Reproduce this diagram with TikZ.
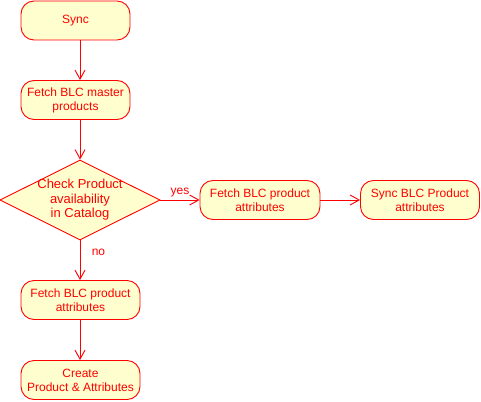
\documentclass[tikz,border=0pt]{standalone}
\usepackage{fontspec}
\setmainfont{Liberation Sans}
\usetikzlibrary{shapes.geometric,arrows.meta}
\definecolor{umlred}{HTML}{FF0000}
\definecolor{umlfill}{HTML}{FEFECE}

\begin{document}
\begin{tikzpicture}[
        x=1pt, y=-1pt,
        every node/.style={font=\fontsize{12}{14}\selectfont, text=umlred, align=center},
        act/.style={draw=umlred, fill=umlfill, line width=0.9pt, rounded corners=13pt,
            minimum height=39pt, inner sep=0pt},
        choice/.style={draw=umlred, fill=umlfill, line width=0.9pt, diamond, shape aspect=2,
            minimum width=160pt, minimum height=80pt, inner sep=-2.5pt,
            font=\fontsize{13}{14.5}\selectfont},
        flow/.style={draw=umlred, line width=0.9pt, -{Straight Barb[length=9pt,width=10pt]}}
    ]
    \useasboundingbox (0,0) rectangle (481,401);
    % left column
    \node[act, minimum width=109pt] (sync) at (75.5,20.5) {Sync};
    \node[act, minimum width=109pt] (master) at (75.5,100) {Fetch BLC master\\products};
    \node[choice] (check) at (80,200) {Check Product\\availability\\in Catalog};
    \node[act, minimum width=119pt] (attrdown) at (80.5,300) {Fetch BLC product\\attributes};
    \node[act, minimum width=119pt] (create) at (80.5,380) {Create\\Product \& Attributes};
    % right branch
    \node[act, minimum width=120pt] (attrright) at (260,200) {Fetch BLC product\\attributes};
    \node[act, minimum width=119pt] (syncattr) at (420,200) {Sync BLC Product\\attributes};

    \draw[flow] (sync.south -| check.north) -- (master.north -| check.north);
    \draw[flow] (master.south -| check.north) -- (check.north);
    \draw[flow] (check.east) -- node[above, yshift=-1pt] {yes} (attrright.west);
    \draw[flow] (attrright.east) -- (syncattr.west);
    \draw[flow] (check.south) -- node[right, pos=0.3, xshift=8pt] {no} (check.south |- attrdown.north);
    \draw[flow] (attrdown.south -| check.south) -- (create.north -| check.south);
\end{tikzpicture}
\end{document}
